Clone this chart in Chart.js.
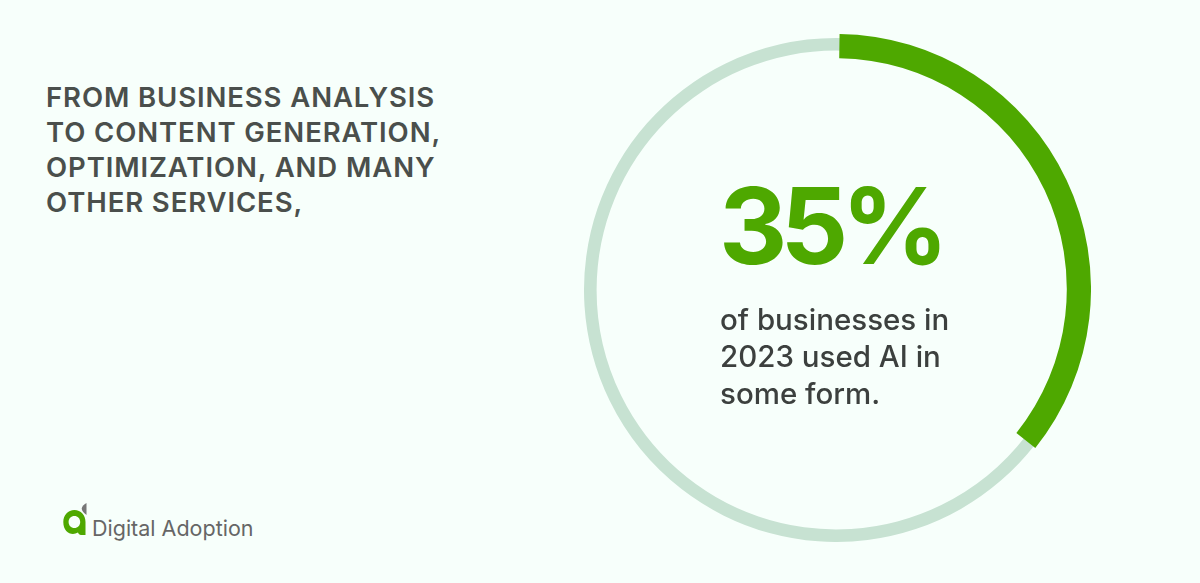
<!DOCTYPE html>
<html><head><meta charset="utf-8">
<script src="https://cdn.jsdelivr.net/npm/chart.js@4"></script>
<style>
html,body{margin:0;padding:0;background:#f7fffb;}
#stage{position:relative;width:1200px;height:583px;overflow:hidden;background:#f7fffb;font-family:Inter,sans-serif;}
canvas{position:absolute;}
.t{position:absolute;white-space:nowrap;}
.h{left:46px;top:80px;color:#4a4f4c;font-weight:600;font-size:27.5px;line-height:35px;letter-spacing:.9px;}
.big{left:719px;top:151px;color:#4ea800;font-weight:700;font-size:106px;line-height:150px;letter-spacing:-7px;}
.b{left:720px;top:301px;color:#3c403e;font-weight:500;font-size:29.5px;line-height:37px;letter-spacing:0px;}
.logo{left:92px;top:513px;color:#666666;font-size:21.5px;line-height:30px;}
</style></head><body>
<div id="stage">
<canvas id="track" width="504" height="504" style="left:584px;top:38px;width:504px;height:504px"></canvas>
<canvas id="ring" width="510" height="510" style="left:581px;top:34px;width:510px;height:510px"></canvas>
<div class="t h" id="head"></div>
<div class="t big" id="big"></div>
<div class="t b" id="body"></div>
<svg style="position:absolute;left:60px;top:500px" width="32" height="40" viewBox="0 0 32 40">
<path d="M26.5 3 L26.5 15 C24 13 21.7 11 21.7 8.5 C22 6 24.5 4 26.5 3Z" fill="#777"/>
<path fill-rule="evenodd" fill="#4ea800" d="M14.4 10 C21 10 25.5 15 25.5 22 L25.5 35 L21 35 C19.5 35 18.5 34 18 32.5 C12 36 3.3 33 3.3 22 C3.3 15 8 10 14.4 10Z M14.4 16 C11 16 8.6 18.6 8.6 22 C8.6 25.4 11 28 14.4 28 C17.8 28 20.2 25.4 20.2 22 C20.2 18.6 17.8 16 14.4 16Z"/>
</svg>
<div class="t logo" id="logo"></div>
</div>
<script>
const headLines = ["FROM BUSINESS ANALYSIS","TO CONTENT GENERATION,","OPTIMIZATION, AND MANY","OTHER SERVICES,"];
const bigLabel = "35%";
const bodyLines = ["of businesses in","2023 used AI in","some form."];
const logoText = "Digital Adoption";
const categories = ["Used AI","Did not"];
const shareValues = [35.5, 64.5];
const greenColors = ["#4ea800","rgba(0,0,0,0)"];
const trackColors = ["#c7e2d2","#c7e2d2"];

document.getElementById("head").innerHTML = headLines.join("<br>");
document.getElementById("big").textContent = bigLabel;
document.getElementById("body").innerHTML = bodyLines.join("<br>");
document.getElementById("logo").textContent = logoText;

function donut(id, colors, cutout, rotation){
  return new Chart(document.getElementById(id), {
    type: "doughnut",
    data: { labels: categories, datasets: [{ data: shareValues, backgroundColor: colors, borderWidth: 0 }] },
    options: {
      responsive: false, animation: false, devicePixelRatio: 1,
      cutout: cutout, rotation: rotation,
      layout: { padding: 0 },
      plugins: { legend: { display: false }, tooltip: { enabled: false } }
    }
  });
}
donut("track", trackColors, 239.4, 0);
donut("ring", greenColors, 230.8, 0.8);
</script>
</body></html>
